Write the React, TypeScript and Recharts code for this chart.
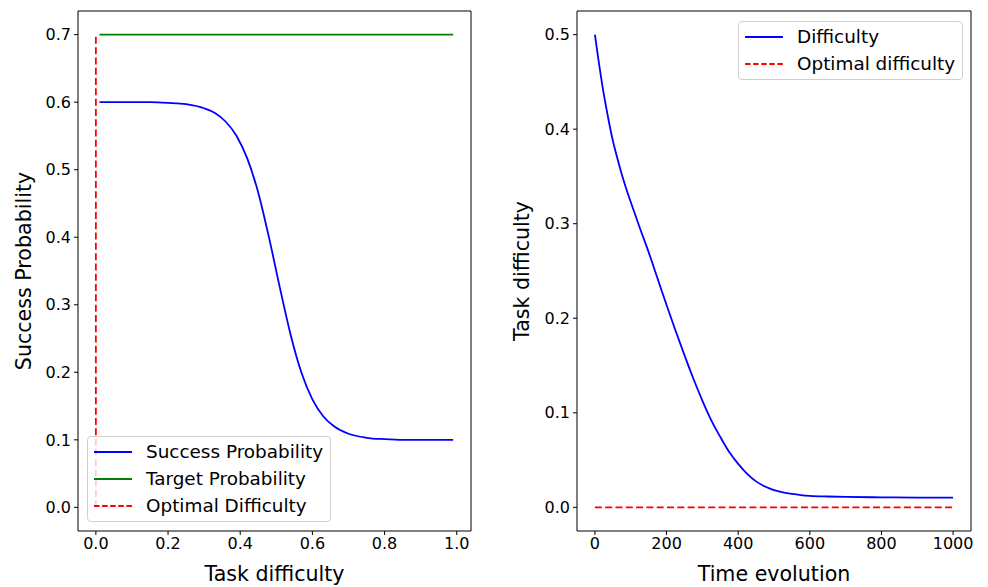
import React from 'react';
import { LineChart, Line, XAxis, YAxis, ReferenceArea, Legend } from 'recharts';

// left panel: success probability vs task difficulty
const difficultyX = [0.01, 0.05, 0.1, 0.15, 0.2, 0.25, 0.3, 0.33, 0.36, 0.39, 0.42, 0.45, 0.48, 0.51, 0.54, 0.57, 0.6, 0.63, 0.66, 0.7, 0.75, 0.8, 0.85, 0.9, 0.95, 0.99];
const successProb = [0.6, 0.6, 0.6, 0.6, 0.599, 0.597, 0.591, 0.584, 0.571, 0.55, 0.516, 0.466, 0.399, 0.325, 0.255, 0.199, 0.16, 0.135, 0.12, 0.109, 0.103, 0.101, 0.1, 0.1, 0.1, 0.1];
const targetX = [0.01, 0.99];
const targetProb = [0.7, 0.7];
const optimalX = [0, 0];
const optimalY = [0, 0.7];
const leftXTicks = [0, 0.2, 0.4, 0.6, 0.8, 1.0];
const leftYTicks = [0, 0.1, 0.2, 0.3, 0.4, 0.5, 0.6, 0.7];

// right panel: difficulty over time
const timeSteps = [0, 10, 20, 30, 40, 50, 60, 70, 80, 90, 100, 125, 150, 175, 200, 225, 250, 275, 300, 325, 350, 375, 400, 425, 450, 475, 500, 525, 550, 575, 600, 650, 700, 800, 900, 1000];
const difficultyVals = [0.5, 0.473, 0.448, 0.426, 0.406, 0.388, 0.373, 0.359, 0.346, 0.334, 0.323, 0.296, 0.27, 0.242, 0.214, 0.187, 0.161, 0.136, 0.113, 0.092, 0.0745, 0.0585, 0.046, 0.0355, 0.0275, 0.022, 0.0182, 0.0158, 0.0142, 0.013, 0.0122, 0.0115, 0.0111, 0.0106, 0.0104, 0.0103];
const optimalTime = [0, 1000];
const optimalDifficulty = [0, 0];
const rightXTicks = [0, 200, 400, 600, 800, 1000];
const rightYTicks = [0, 0.1, 0.2, 0.3, 0.4, 0.5];

const successData = difficultyX.map((x, i) => ({ x, y: successProb[i] }));
const targetData = targetX.map((x, i) => ({ x, y: targetProb[i] }));
const optimalData = optimalX.map((x, i) => ({ x, y: optimalY[i] }));
const diffData = timeSteps.map((t, i) => ({ t, v: difficultyVals[i] }));
const optimalDiffData = optimalTime.map((t, i) => ({ t, v: optimalDifficulty[i] }));

const FONT = 'DejaVu Sans';
const tickStyle = { fill: '#000', fontSize: 16, fontFamily: FONT };
const labelStyle = { fill: '#000', fontSize: 20.6, fontFamily: FONT };
const DASH = '7 3.3';

type Item = { label: string; color: string; dashed?: boolean };

const MplLegend = ({ items, width, height }: { items: Item[]; width: number; height: number }) => (
  <div
    style={{
      width,
      height,
      boxSizing: 'border-box',
      border: '1px solid #d0d0d0',
      borderRadius: 4,
      background: 'rgba(255,255,255,0.8)',
      paddingTop: 1,
      paddingLeft: 6,
      fontFamily: FONT,
      fontSize: 18.4,
      color: '#000',
    }}
  >
    {items.map((it) => (
      <div key={it.label} style={{ height: 27, display: 'flex', alignItems: 'center', whiteSpace: 'nowrap' }}>
        <svg width={38} height={6} style={{ marginRight: 14 }}>
          <line x1={0} y1={3} x2={38} y2={3} stroke={it.color} strokeWidth={1.8} strokeDasharray={it.dashed ? '5.5 2.6' : undefined} />
        </svg>
        <span>{it.label}</span>
      </div>
    ))}
  </div>
);

const leftItems: Item[] = [
  { label: 'Success Probability', color: '#0000ff' },
  { label: 'Target Probability', color: '#008000' },
  { label: 'Optimal Difficulty', color: '#ff0000', dashed: true },
];
const rightItems: Item[] = [
  { label: 'Difficulty', color: '#0000ff' },
  { label: 'Optimal difficulty', color: '#ff0000', dashed: true },
];

const App = () => {
  return (
    <div style={{ position: 'absolute', left: 0, top: 0, width: 988, height: 587, background: '#fff', fontFamily: FONT }}>
      <div style={{ position: 'absolute', left: 0, top: 0 }}>
        <LineChart width={480} height={587} data={successData} margin={{ top: 11, right: 9, left: 0, bottom: 0 }}>
          <XAxis
            dataKey="x"
            type="number"
            domain={[-0.0495, 1.0395]}
            ticks={leftXTicks}
            tickFormatter={(v: number) => v.toFixed(1)}
            tick={tickStyle}
            tickSize={4}
            tickMargin={3}
            tickLine={{ stroke: '#000' }}
            axisLine={false}
            height={56}
            allowDataOverflow
            label={{ value: 'Task difficulty', position: 'insideBottom', offset: 6, style: labelStyle }}
          />
          <YAxis
            dataKey="y"
            type="number"
            domain={[-0.035, 0.735]}
            ticks={leftYTicks}
            tickFormatter={(v: number) => v.toFixed(1)}
            tick={tickStyle}
            tickSize={4}
            tickMargin={3}
            tickLine={{ stroke: '#000' }}
            axisLine={false}
            width={78}
            allowDataOverflow
            label={{ value: 'Success Probability', angle: -90, position: 'insideLeft', offset: 24, style: { ...labelStyle, textAnchor: 'middle' } }}
          />
          <ReferenceArea x1={-0.0495} x2={1.0395} y1={-0.035} y2={0.735} fill="none" stroke="#000" strokeWidth={1} ifOverflow="visible" />
          <Line data={successData} dataKey="y" type="monotone" stroke="#0000ff" strokeWidth={1.8} dot={false} isAnimationActive={false} />
          <Line data={targetData} dataKey="y" type="linear" stroke="#008000" strokeWidth={1.8} dot={false} isAnimationActive={false} />
          <Line data={optimalData} dataKey="y" type="linear" stroke="#ff0000" strokeWidth={1.8} strokeDasharray={DASH} dot={false} isAnimationActive={false} />
          <Legend
            layout="vertical"
            align="center"
            verticalAlign="middle"
            wrapperStyle={{ left: 87, top: 436, width: 244, height: 86 }}
            content={() => <MplLegend items={leftItems} width={244} height={86} />}
          />
        </LineChart>
      </div>
      <div style={{ position: 'absolute', left: 490, top: 0 }}>
        <LineChart width={498} height={587} data={diffData} margin={{ top: 11, right: 17, left: 0, bottom: 0 }}>
          <XAxis
            dataKey="t"
            type="number"
            domain={[-50, 1050]}
            ticks={rightXTicks}
            tick={tickStyle}
            tickSize={4}
            tickMargin={3}
            tickLine={{ stroke: '#000' }}
            axisLine={false}
            height={56}
            allowDataOverflow
            label={{ value: 'Time evolution', position: 'insideBottom', offset: 6, style: labelStyle }}
          />
          <YAxis
            dataKey="v"
            type="number"
            domain={[-0.025, 0.525]}
            ticks={rightYTicks}
            tickFormatter={(v: number) => v.toFixed(1)}
            tick={tickStyle}
            tickSize={4}
            tickMargin={3}
            tickLine={{ stroke: '#000' }}
            axisLine={false}
            width={87}
            allowDataOverflow
            label={{ value: 'Task difficulty', angle: -90, position: 'insideLeft', offset: 32, style: { ...labelStyle, textAnchor: 'middle' } }}
          />
          <ReferenceArea x1={-50} x2={1050} y1={-0.025} y2={0.525} fill="none" stroke="#000" strokeWidth={1} ifOverflow="visible" />
          <Line data={diffData} dataKey="v" type="monotone" stroke="#0000ff" strokeWidth={1.8} dot={false} isAnimationActive={false} />
          <Line data={optimalDiffData} dataKey="v" type="linear" stroke="#ff0000" strokeWidth={1.8} strokeDasharray={DASH} dot={false} isAnimationActive={false} />
          <Legend
            layout="vertical"
            align="center"
            verticalAlign="middle"
            wrapperStyle={{ left: 248, top: 21, width: 225, height: 59 }}
            content={() => <MplLegend items={rightItems} width={225} height={59} />}
          />
        </LineChart>
      </div>
    </div>
  );
};

export default App;
